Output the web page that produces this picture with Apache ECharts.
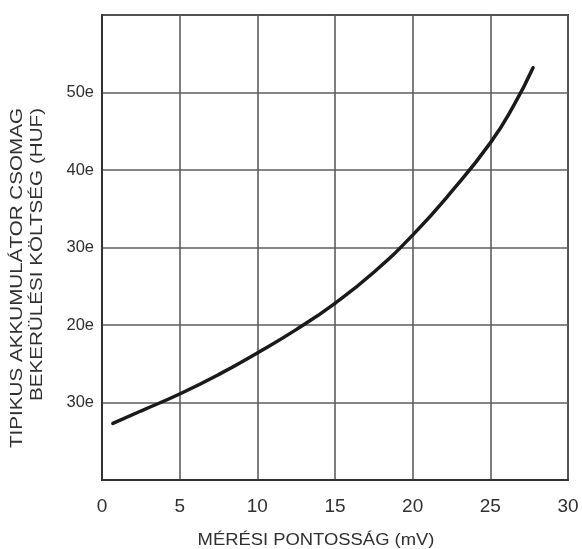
<!DOCTYPE html>
<html>
<head>
<meta charset="utf-8">
<script src="https://cdn.jsdelivr.net/npm/echarts@6/dist/echarts.min.js"></script>
<style>
html,body{margin:0;padding:0;background:#fff;}
#chart{width:582px;height:549px;}
</style>
</head>
<body>
<div id="chart"></div>
<script>
// Data
const xValues = [0.7, 2.5, 5, 7.5, 10, 12.5, 15, 17.5, 20, 22.5, 25, 26.5, 27.75];
const costValues = [7.3, 8.9, 11.1, 13.6, 16.4, 19.4, 22.8, 26.8, 31.6, 37.2, 43.5, 48.3, 53.2];
const xTickLabels = ['0', '5', '10', '15', '20', '25', '30'];
const yTickLabels = ['', '30e', '20e', '30e', '40e', '50e', ''];
const xAxisTitle = 'MÉRÉSI PONTOSSÁG (mV)';
const yAxisTitleLines = ['TIPIKUS AKKUMULÁTOR CSOMAG', 'BEKERÜLÉSI KÖLTSÉG (HUF)'];

const chart = echarts.init(document.getElementById('chart'), null, {renderer: 'canvas'});
const font = 'Liberation Sans, Arial, sans-serif';
const textColor = '#303030';

const option = {
  animation: false,
  backgroundColor: '#fff',
  grid: {
    left: 102, right: 14, top: 15, bottom: 69,
    show: true, borderColor: '#333', borderWidth: 2
  },
  xAxis: {
    type: 'value', min: 0, max: 30, interval: 5,
    axisLine: {show: true, lineStyle: {color: '#333', width: 2}},
    axisTick: {show: false},
    splitLine: {show: true, lineStyle: {color: '#5e5e5e', width: 1.6}},
    axisLabel: {
      margin: 17, fontSize: 19, color: textColor, fontFamily: font,
      formatter: v => xTickLabels[Math.round(v / 5)] ?? ''
    }
  },
  yAxis: {
    type: 'value', min: 0, max: 60, interval: 10,
    axisLine: {show: true, lineStyle: {color: '#333', width: 2}},
    axisTick: {show: false},
    splitLine: {show: true, lineStyle: {color: '#5e5e5e', width: 1.6}},
    axisLabel: {
      margin: 8, fontSize: 16.5, color: textColor, fontFamily: font,
      formatter: v => yTickLabels[Math.round(v / 10)] ?? ''
    }
  },
  graphic: [
    {
      type: 'text', x: 316, y: 541, scaleX: 1.15,
      style: {text: xAxisTitle, fontSize: 16, fontFamily: font, fill: textColor,
        align: 'center', verticalAlign: 'middle'}
    },
    {
      type: 'text', x: 17, y: 108, rotation: Math.PI / 2, scaleX: 1.25,
      style: {text: yAxisTitleLines[0], fontSize: 16.5, fontFamily: font, fill: textColor,
        align: 'right', verticalAlign: 'middle'}
    },
    {
      type: 'text', x: 37, y: 108, rotation: Math.PI / 2, scaleX: 1.25,
      style: {text: yAxisTitleLines[1], fontSize: 16.5, fontFamily: font, fill: textColor,
        align: 'right', verticalAlign: 'middle'}
    }
  ],
  series: [{
    type: 'line',
    data: xValues.map((x, i) => [x, costValues[i]]),
    smooth: true,
    showSymbol: false,
    lineStyle: {color: '#1a1a1a', width: 3.5, cap: 'round'}
  }]
};
chart.setOption(option);
</script>
</body>
</html>
